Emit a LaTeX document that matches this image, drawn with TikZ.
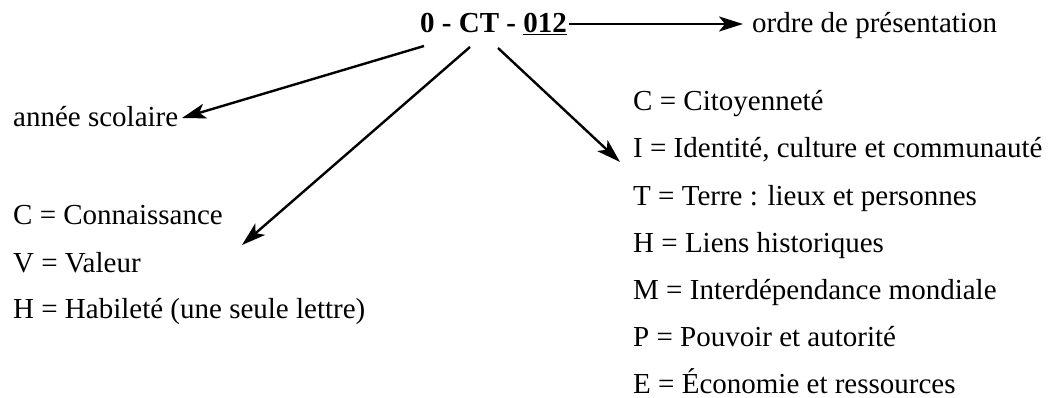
\documentclass[tikz,border=0pt]{standalone}
\usepackage{fontspec}
\setmainfont{Liberation Serif}
\usetikzlibrary{arrows.meta}
\begin{document}
\begin{tikzpicture}[x=1pt,y=-1pt,
  txt/.style={anchor=base west,inner sep=0pt,font=\fontsize{29}{35}\selectfont},
  conn/.style={line width=2.4pt,-{Stealth[length=24pt,width=15pt,inset=6pt]}}]
\useasboundingbox (0,0) rectangle (1057,398);
\node[txt,font=\fontsize{29}{35}\selectfont\bfseries] (title) at (420,33) {0 - CT - \underline{012}};
\node[txt] (ordre) at (752,33) {ordre de présentation};
\node[txt] (annee) at (13,127) {année scolaire};
\node[txt] (l1) at (13,225) {C = Connaissance};
\node[txt] (l2) at (13,272) {V = Valeur};
\node[txt] (l3) at (13,318) {H = Habileté (une seule lettre)};
\node[txt] (r1) at (633,111) {C = Citoyenneté};
\node[txt] (r2) at (633,158) {I = Identité, culture et communauté};
\node[txt] (r3) at (633,205) {T = Terre : lieux et personnes};
\node[txt] (r4) at (633,252) {H = Liens historiques};
\node[txt] (r5) at (633,299) {M = Interdépendance mondiale};
\node[txt] (r6) at (633,346) {P = Pouvoir et autorité};
\node[txt] (r7) at (633,393) {E = Économie et ressources};
\coordinate (s0) at (569,24);
\coordinate (e0) at (743,24);
\coordinate (s1) at (424,46);
\coordinate (e1) at (182,118);
\coordinate (s2) at (470,47);
\coordinate (e2) at (242,245);
\coordinate (s3) at (498,48);
\coordinate (e3) at (620,162);
\draw[conn] (s0) -- (e0);
\draw[conn] (s1) -- (e1);
\draw[conn] (s2) -- (e2);
\draw[conn] (s3) -- (e3);
\end{tikzpicture}
\end{document}
